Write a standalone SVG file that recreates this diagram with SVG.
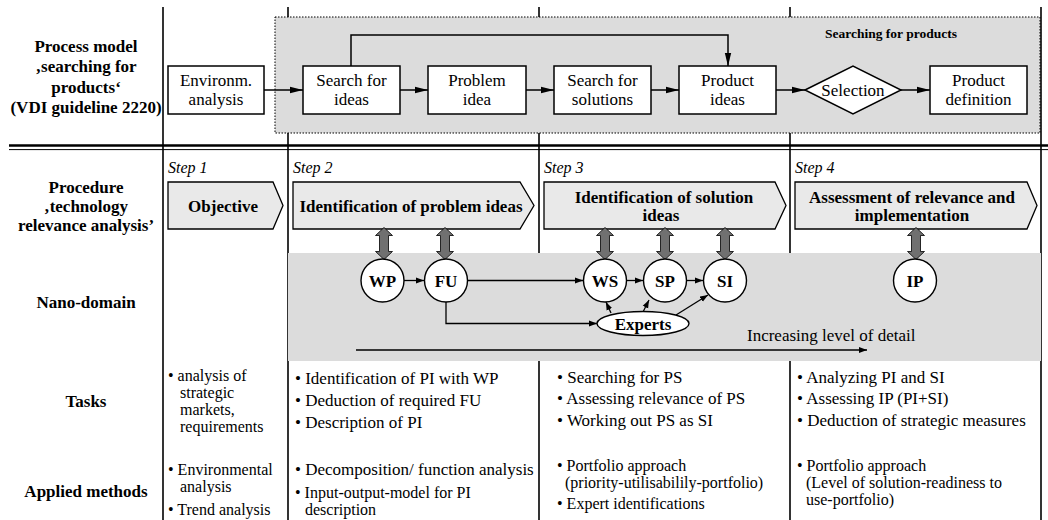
<svg xmlns="http://www.w3.org/2000/svg" width="1048" height="520" viewBox="0 0 1048 520">
<style>
text{font-family:"Liberation Serif","Times New Roman",serif;fill:#000}
.lab{font-size:17px;font-weight:bold;text-anchor:middle}
.box{fill:#fff;stroke:#000;stroke-width:1.5}
.bt{font-size:17px;text-anchor:middle}
.step{font-size:16px;font-style:italic}
.chev{fill:#e9e9e9;stroke:#000;stroke-width:1.3}
.ct{font-size:17px;font-weight:bold;text-anchor:middle}
.grid{stroke:#000;stroke-width:1.6;fill:none}
.flow{stroke:#000;stroke-width:1.5;fill:none}
.thin{stroke:#000;stroke-width:1.3;fill:none}
.node{fill:#fff;stroke:#000;stroke-width:1.4}
.nt{font-size:17px;font-weight:bold;text-anchor:middle}
.dbl{fill:#707070;stroke:#000;stroke-width:0.8}
.tx{font-size:17px}
.tt{font-size:16px}
</style>
<defs>
<marker id="ah" markerUnits="userSpaceOnUse" markerWidth="14" markerHeight="8" refX="13" refY="4" orient="auto"><path d="M0,0.8 L13,4 L0,7.2 Z" fill="#000"/></marker>
<marker id="as" markerUnits="userSpaceOnUse" markerWidth="9" markerHeight="7" refX="8" refY="3.5" orient="auto"><path d="M0,0.5 L8,3.5 L0,6.5 Z" fill="#000"/></marker>
<path id="dbla" d="M0,-16 L8.5,-8 L4.5,-8 L4.5,8 L8.5,8 L0,16 L-8.5,8 L-4.5,8 L-4.5,-8 L-8.5,-8 Z"/>
</defs>

<g id="grid">
<line class="grid" x1="163" y1="7" x2="163" y2="520"/>
<line class="grid" x1="288" y1="7" x2="288" y2="520"/>
<line class="grid" x1="539" y1="7" x2="539" y2="520"/>
<line class="grid" x1="790" y1="7" x2="790" y2="520"/>
<line class="grid" x1="1041" y1="7" x2="1041" y2="520"/>
<line x1="9" y1="145.5" x2="1048" y2="145.5" stroke="#000" stroke-width="2.6"/>
<line x1="9" y1="149.6" x2="1048" y2="149.6" stroke="#000" stroke-width="1"/>
</g>

<g id="process-area">
<rect x="275" y="17" width="765" height="116" fill="#dcdcdc" stroke="#000" stroke-width="1" stroke-dasharray="1.5,1.5"/>
<text x="891" y="38" style="font-size:13.5px;font-weight:bold;text-anchor:middle">Searching for products</text>
</g>

<g id="nano-area">
<rect x="288" y="253" width="753" height="108" fill="#dcdcdc"/>
</g>

<g id="labels">
<text class="lab" x="86" y="52">Process model</text>
<text class="lab" x="86" y="72">‚searching for</text>
<text class="lab" x="86" y="93">products‘</text>
<text class="lab" x="86" y="113">(VDI guideline 2220)</text>
<text class="lab" x="86" y="193">Procedure</text>
<text class="lab" x="86" y="212">‚technology</text>
<text class="lab" x="86" y="231">relevance analysis’</text>
<text class="lab" x="86" y="308">Nano-domain</text>
<text class="lab" x="86" y="407">Tasks</text>
<text class="lab" x="86" y="497">Applied methods</text>
</g>

<g id="env-analysis"><rect class="box" x="168" y="66" width="96" height="48"/><text class="bt" x="216" y="86">Environm.</text><text class="bt" x="216" y="105">analysis</text></g>
<g id="search-ideas"><rect class="box" x="303" y="66" width="97" height="48"/><text class="bt" x="351.5" y="86">Search for</text><text class="bt" x="351.5" y="105">ideas</text></g>
<g id="problem-idea"><rect class="box" x="428" y="66" width="98" height="48"/><text class="bt" x="477" y="86">Problem</text><text class="bt" x="477" y="105">idea</text></g>
<g id="search-solutions"><rect class="box" x="554" y="66" width="97" height="48"/><text class="bt" x="602.5" y="86">Search for</text><text class="bt" x="602.5" y="105">solutions</text></g>
<g id="product-ideas"><rect class="box" x="679" y="66" width="97" height="48"/><text class="bt" x="727.5" y="86">Product</text><text class="bt" x="727.5" y="105">ideas</text></g>
<g id="selection"><polygon class="box" points="805,90 853,66 901,90 853,114"/><text class="bt" x="853" y="96">Selection</text></g>
<g id="product-definition"><rect class="box" x="930" y="66" width="97" height="48"/><text class="bt" x="978.5" y="86">Product</text><text class="bt" x="978.5" y="105">definition</text></g>

<g id="steps">
<text class="step" x="168" y="173">Step 1</text>
<text class="step" x="293" y="173">Step 2</text>
<text class="step" x="544" y="173">Step 3</text>
<text class="step" x="795" y="173">Step 4</text>
</g>
<g id="objective"><polygon class="chev" points="168,182 273,182 283,205.5 273,229 168,229"/><text class="ct" x="223" y="212">Objective</text></g>
<g id="problem-ideas"><polygon class="chev" points="293,182 520,182 534,205.5 520,229 293,229"/><text class="ct" x="411" y="212">Identification of problem ideas</text></g>
<g id="solution-ideas"><polygon class="chev" points="544,182 775,182 786,205.5 775,229 544,229"/><text class="ct" x="664" y="203">Identification of solution</text><text class="ct" x="661" y="221">ideas</text></g>
<g id="assessment"><polygon class="chev" points="795,182 1027,182 1037,205.5 1027,229 795,229"/><text class="ct" x="912" y="203">Assessment of relevance and</text><text class="ct" x="912" y="221">implementation</text></g>

<g id="connectors">
<line class="flow" x1="264" y1="90" x2="303" y2="90" marker-end="url(#ah)"/>
<line class="flow" x1="400" y1="90" x2="428" y2="90" marker-end="url(#ah)"/>
<line class="flow" x1="526" y1="90" x2="554" y2="90" marker-end="url(#ah)"/>
<line class="flow" x1="651" y1="90" x2="679" y2="90" marker-end="url(#ah)"/>
<line class="flow" x1="776" y1="90" x2="805" y2="90" marker-end="url(#ah)"/>
<line class="flow" x1="901" y1="90" x2="930" y2="90" marker-end="url(#ah)"/>
<path class="flow" d="M351,66 V35 H728 V66" marker-end="url(#ah)"/>
<use href="#dbla" class="dbl" x="384" y="243.5"/>
<use href="#dbla" class="dbl" x="445" y="243.5"/>
<use href="#dbla" class="dbl" x="605" y="243.5"/>
<use href="#dbla" class="dbl" x="665" y="243.5"/>
<use href="#dbla" class="dbl" x="725" y="243.5"/>
<use href="#dbla" class="dbl" x="916" y="243.5"/>
<line class="thin" x1="404" y1="280.5" x2="424" y2="280.5" marker-end="url(#as)"/>
<line class="thin" x1="468" y1="280.5" x2="583" y2="280.5" marker-end="url(#as)"/>
<line class="thin" x1="627" y1="280.5" x2="643" y2="280.5" marker-end="url(#as)"/>
<line class="thin" x1="687" y1="280.5" x2="703" y2="280.5" marker-end="url(#as)"/>
<path class="thin" d="M446,302 V323.5 H597" marker-end="url(#as)"/>
<line class="thin" x1="611" y1="313" x2="606" y2="302" marker-end="url(#as)"/>
<line class="thin" x1="643" y1="312" x2="649" y2="300" marker-end="url(#as)"/>
<line class="thin" x1="676" y1="315" x2="708" y2="295" marker-end="url(#as)"/>
<line class="thin" x1="356" y1="350" x2="867" y2="350" marker-end="url(#as)"/>
</g>

<g id="WP"><circle class="node" cx="382.5" cy="280.5" r="21.5"/><text class="nt" x="382.5" y="286.5">WP</text></g>
<g id="FU"><circle class="node" cx="446" cy="280.5" r="21.5"/><text class="nt" x="446" y="286.5">FU</text></g>
<g id="WS"><circle class="node" cx="605" cy="280.5" r="21.5"/><text class="nt" x="605" y="286.5">WS</text></g>
<g id="SP"><circle class="node" cx="665" cy="280.5" r="21.5"/><text class="nt" x="665" y="286.5">SP</text></g>
<g id="SI"><circle class="node" cx="725" cy="280.5" r="21.5"/><text class="nt" x="725" y="286.5">SI</text></g>
<g id="IP"><circle class="node" cx="915" cy="280.5" r="21.5"/><text class="nt" x="915" y="286.5">IP</text></g>
<g id="experts"><ellipse class="node" cx="643" cy="323.5" rx="46" ry="12"/><text class="nt" x="643" y="329.5">Experts</text></g>
<g id="detail-label"><text class="tx" x="747" y="341">Increasing level of detail</text></g>

<g id="tasks">
<text class="tt" x="168" y="381">• analysis of</text>
<text class="tt" x="180" y="398">strategic</text>
<text class="tt" x="180" y="415">markets,</text>
<text class="tt" x="180" y="432">requirements</text>
<text class="tx" x="295" y="384">• Identification of PI with WP</text>
<text class="tx" x="295" y="406">• Deduction of required FU</text>
<text class="tx" x="295" y="428">• Description of PI</text>
<text class="tx" x="557" y="383">• Searching for PS</text>
<text class="tx" x="557" y="404">• Assessing relevance of PS</text>
<text class="tx" x="557" y="426">• Working out PS as SI</text>
<text class="tx" x="797" y="383">• Analyzing PI and SI</text>
<text class="tx" x="797" y="404">• Assessing IP (PI+SI)</text>
<text class="tx" x="797" y="426">• Deduction of strategic measures</text>
</g>

<g id="methods">
<text class="tt" x="168" y="475">• Environmental</text>
<text class="tt" x="180" y="492">analysis</text>
<text class="tt" x="168" y="515">• Trend analysis</text>
<text class="tx" x="295" y="475">• Decomposition/ function analysis</text>
<text class="tt" x="295" y="498">• Input-output-model for PI</text>
<text class="tt" x="305" y="515">description</text>
<text class="tt" x="557" y="471">• Portfolio approach</text>
<text class="tt" x="565" y="488">(priority-utilisabilily-portfolio)</text>
<text class="tt" x="557" y="509">• Expert identifications</text>
<text class="tt" x="797" y="471">• Portfolio approach</text>
<text class="tt" x="806" y="488">(Level of solution-readiness to</text>
<text class="tt" x="806" y="505">use-portfolio)</text>
</g>
</svg>
